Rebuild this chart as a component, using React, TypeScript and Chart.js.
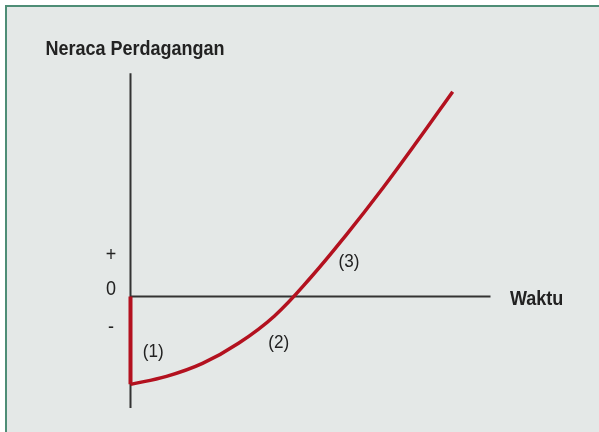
import React, { useEffect, useRef } from "react";
import { Chart, registerables } from "chart.js";

Chart.register(...registerables);

// J-curve: trade balance over time after a devaluation
const dropTime = [0, 0];
const dropBalance = [0, -2.44];
const curveTime = [0, 1, 2, 3, 4, 5, 6, 7, 8, 8.95];
const curveBalance = [-2.44, -2.22, -1.86, -1.3, -0.54, 0.52, 1.72, 3.0, 4.36, 5.69];

// axis extents in data units
const timeAxisEnd = 10;
const balanceAxisTop = 6.2;
const balanceAxisBottom = -3.1;

// texts
const titleText = "Neraca Perdagangan";
const timeLabel = "Waktu";
const signLabels = ["+", "0", "-"];
const phaseLabels = ["(1)", "(2)", "(3)"];

// anchors for the texts, in data units
const signAnchors = [
  { x: -0.54, y: 1.15 },
  { x: -0.54, y: 0.2 },
  { x: -0.54, y: -0.87 },
];
const phaseAnchors = [
  { x: 0.63, y: -1.54 },
  { x: 4.12, y: -1.29 },
  { x: 6.07, y: 0.96 },
];
const titleAnchor = { x: -2.36, y: 6.86 };
const timeLabelAnchor = { x: 10.54, y: -0.08 };

const FONT = '"Liberation Sans", Arial, Helvetica, sans-serif';
const INK = "#222222";
const RED = "#b3111f";
// the lettering is a slightly condensed sans
const SQUEEZE = 0.9;

const labelsPlugin = {
  id: "jcurveLabels",
  afterDatasetsDraw(chart: any) {
    const { ctx, scales } = chart;
    const px = (v: number) => scales.x.getPixelForValue(v);
    const py = (v: number) => scales.y.getPixelForValue(v);
    const put = (t: string, x: number, y: number) => {
      const w = ctx.measureText(t).width * SQUEEZE;
      ctx.fillText(t, x, y, w);
    };
    ctx.save();
    ctx.fillStyle = INK;
    ctx.textBaseline = "middle";

    ctx.font = `bold 20px ${FONT}`;
    ctx.textAlign = "left";
    put(titleText, px(titleAnchor.x), py(titleAnchor.y));
    put(timeLabel, px(timeLabelAnchor.x), py(timeLabelAnchor.y));

    ctx.font = `20px ${FONT}`;
    ctx.textAlign = "center";
    signLabels.forEach((t, i) => {
      put(t, px(signAnchors[i].x), py(signAnchors[i].y));
    });

    ctx.font = `19px ${FONT}`;
    phaseLabels.forEach((t, i) => {
      put(t, px(phaseAnchors[i].x), py(phaseAnchors[i].y));
    });
    ctx.restore();
  },
};

export default function App() {
  const canvasRef = useRef<HTMLCanvasElement | null>(null);

  useEffect(() => {
    if (!canvasRef.current) return;
    const toPoints = (xs: number[], ys: number[]) => xs.map((x, i) => ({ x, y: ys[i] }));

    const chart = new Chart(canvasRef.current, {
      type: "line",
      data: {
        datasets: [
          {
            data: toPoints(dropTime, dropBalance),
            borderColor: RED,
            borderWidth: 4,
            pointRadius: 0,
            tension: 0,
            borderCapStyle: "butt",
            order: 0,
          },
          {
            data: toPoints(curveTime, curveBalance),
            borderColor: RED,
            borderWidth: 3.5,
            pointRadius: 0,
            tension: 0.4,
            order: 0,
          },
          {
            data: toPoints([0, 0], [balanceAxisTop, balanceAxisBottom]),
            borderColor: "#333333",
            borderWidth: 2,
            pointRadius: 0,
            tension: 0,
            order: 1,
          },
          {
            data: toPoints([0, timeAxisEnd], [0, 0]),
            borderColor: "#333333",
            borderWidth: 2,
            pointRadius: 0,
            tension: 0,
            order: 1,
          },
        ],
      },
      options: {
        responsive: false,
        animation: false,
        layout: { padding: 0 },
        plugins: {
          legend: { display: false },
          tooltip: { enabled: false },
          title: { display: false },
        },
        scales: {
          x: { type: "linear", min: -3.625, max: 13.014, display: false },
          y: { type: "linear", min: -3.764, max: 8.236, display: false },
        },
      },
      plugins: [labelsPlugin],
    } as any);

    return () => chart.destroy();
  }, []);

  return (
    <div style={{ position: "fixed", left: 0, top: 0, width: 599, height: 432, background: "#ffffff" }}>
      <div
        style={{
          position: "absolute",
          left: 5,
          top: 5,
          right: 0,
          bottom: 0,
          borderLeft: "2px solid #4e8d76",
          borderTop: "2px solid #4e8d76",
          background: "#e4e8e7",
        }}
      />
      <canvas
        ref={canvasRef}
        width={599}
        height={432}
        style={{ position: "absolute", left: 0, top: 0, width: 599, height: 432 }}
      />
    </div>
  );
}
